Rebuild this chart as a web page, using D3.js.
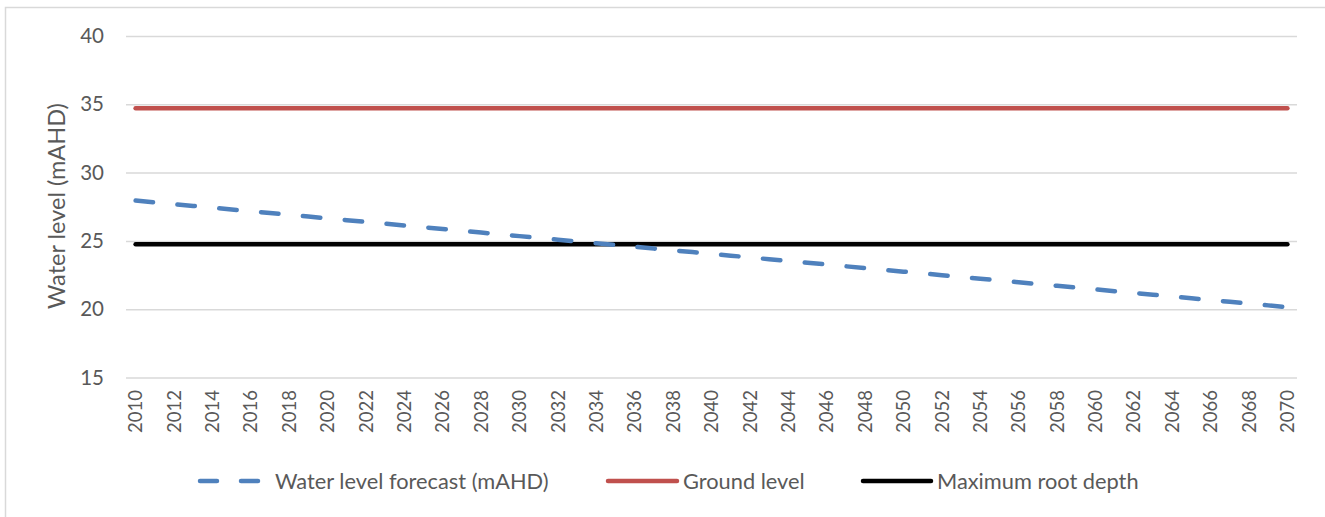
<!DOCTYPE html>
<html>
<head>
<meta charset="utf-8">
<script src="https://cdn.jsdelivr.net/npm/d3@7"></script>
<style>
html,body{margin:0;padding:0;background:#fff;}
svg{display:block;}
text{font-family:Lato,"Open Sans",sans-serif;fill:#595959;}
</style>
</head>
<body>
<svg id="chart" width="1325" height="517"></svg>
<script>
const years = [2010,2011,2012,2013,2014,2015,2016,2017,2018,2019,2020,2021,2022,2023,2024,2025,2026,2027,2028,2029,2030,2031,2032,2033,2034,2035,2036,2037,2038,2039,2040,2041,2042,2043,2044,2045,2046,2047,2048,2049,2050,2051,2052,2053,2054,2055,2056,2057,2058,2059,2060,2061,2062,2063,2064,2065,2066,2067,2068,2069,2070];
const waterLevel = [27.95,27.82,27.69,27.56,27.43,27.30,27.17,27.04,26.91,26.78,26.65,26.52,26.39,26.26,26.13,26.00,25.87,25.74,25.61,25.48,25.35,25.22,25.09,24.96,24.83,24.70,24.57,24.44,24.31,24.18,24.05,23.92,23.79,23.66,23.53,23.40,23.27,23.14,23.01,22.88,22.75,22.62,22.49,22.36,22.23,22.10,21.97,21.84,21.71,21.58,21.45,21.32,21.19,21.06,20.93,20.80,20.67,20.54,20.41,20.28,20.15];
const groundLevel = years.map(() => 34.72);
const maxRootDepth = years.map(() => 24.75);
const yTicks = [15,20,25,30,35,40];
const xTickLabels = years.filter((y,i) => i % 2 === 0);
const seriesNames = ["Water level forecast (mAHD)","Ground level","Maximum root depth"];
const seriesColors = ["#4F81BD","#C0504D","#000000"];
const yTitle = "Water level (mAHD)";

const svg = d3.select("#chart");
// outer border
svg.append("rect").attr("x",5.5).attr("y",7.5).attr("width",1330).attr("height",520)
  .attr("fill","none").attr("stroke","#D9D9D9").attr("stroke-width",1.5);

const x = d3.scaleBand().domain(years).range([126,1297]).padding(0);
const y = d3.scaleLinear().domain([15,40]).range([377.5,36]);

// gridlines
const gy = svg.append("g").attr("transform","translate(126,0)")
  .call(d3.axisLeft(y).tickValues(yTicks).tickSize(-1171).tickFormat(""));
gy.select(".domain").remove();
gy.selectAll(".tick line").attr("stroke","#D9D9D9").attr("stroke-width",1.5);

// y labels
const yl = svg.append("g").attr("transform","translate(104,0)")
  .call(d3.axisLeft(y).tickValues(yTicks).tickSize(0).tickPadding(0));
yl.select(".domain").remove();
yl.selectAll("text").attr("font-size","20.5px").attr("fill","#595959").style("font-family","Lato");

// x labels
const xl = svg.append("g").attr("transform","translate(0,390)")
  .call(d3.axisBottom(x).tickValues(xTickLabels).tickSize(0).tickPadding(0));
xl.select(".domain").remove();
xl.selectAll("text").attr("font-size","18.5px").attr("fill","#595959").style("font-family","Lato")
  .attr("text-anchor","end").attr("dy","0.36em").attr("y",0).attr("x",0)
  .attr("transform","rotate(-90)");

// y title
svg.append("text").attr("transform","translate(57,206) rotate(-90)")
  .attr("text-anchor","middle").attr("dy","0.35em").attr("font-size","23.5px").text(yTitle);

const line = d3.line().x((d,i) => x(years[i]) + x.bandwidth()/2).y(d => y(d));
svg.append("path").datum(groundLevel).attr("d",line).attr("fill","none")
  .attr("stroke",seriesColors[1]).attr("stroke-width",4.5).attr("stroke-linecap","round");
svg.append("path").datum(maxRootDepth).attr("d",line).attr("fill","none")
  .attr("stroke",seriesColors[2]).attr("stroke-width",4.5).attr("stroke-linecap","round");
svg.append("path").datum(waterLevel).attr("d",line).attr("fill","none")
  .attr("stroke",seriesColors[0]).attr("stroke-width",4.5).attr("stroke-linecap","round")
  .attr("stroke-dasharray","17.5,24.5");

// legend
const legY = 481;
const legItems = [
  {x0:200,x1:260,tx:275,dash:"17,24"},
  {x0:608,x1:677,tx:683,dash:null},
  {x0:863,x1:931,tx:937,dash:null}
];
legItems.forEach((it,i) => {
  const l = svg.append("line").attr("x1",it.x0).attr("x2",it.x1).attr("y1",legY).attr("y2",legY)
    .attr("stroke",seriesColors[i]).attr("stroke-width",4.5).attr("stroke-linecap","round");
  if (it.dash) l.attr("stroke-dasharray",it.dash);
  svg.append("text").attr("x",it.tx).attr("y",legY).attr("dy","0.35em")
    .attr("font-size","21.8px").text(seriesNames[i]);
});
</script>
</body>
</html>
